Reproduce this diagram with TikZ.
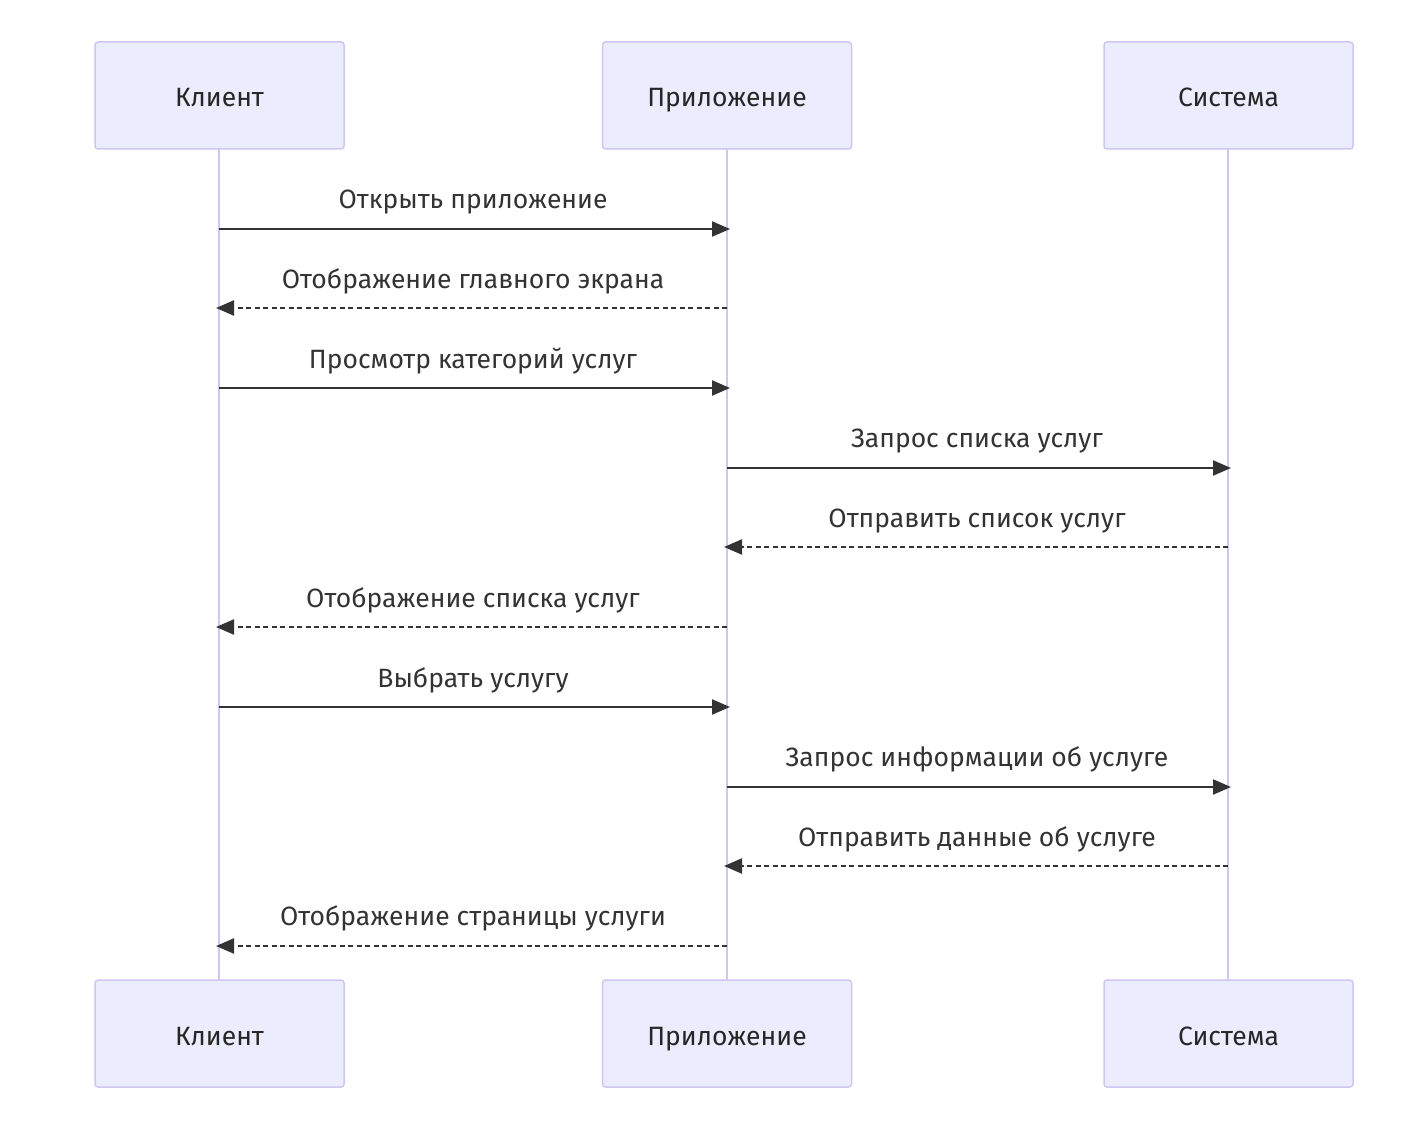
\documentclass[tikz,border=0pt]{standalone}
\usepackage{fontspec}
\setmainfont{Fira Sans}
\usetikzlibrary{arrows.meta}
\definecolor{actfill}{HTML}{ECECFF}
\definecolor{actline}{HTML}{D0C6F2}
\definecolor{msg}{HTML}{333333}
\begin{document}
\begin{tikzpicture}[x=1pt,y=-1pt,
  actor/.style={draw=actline,fill=actfill,line width=1.5pt,rounded corners=3pt,
    minimum width=249pt,minimum height=107pt,inner sep=0pt,
    text height=23pt,text depth=0pt,
    font=\fontsize{26.5}{31}\selectfont,text=black!85},
  life/.style={draw=actline,line width=2pt},
  msgsolid/.style={draw=msg,line width=2.2pt,-{Triangle[length=18pt,width=15pt]}},
  msgdash/.style={draw=msg,line width=2.2pt,dash pattern=on 5pt off 3.5pt,-{Triangle[length=18pt,width=15pt]}},
  lbl/.style={font=\fontsize{26.5}{31}\selectfont,text=black!80,inner sep=0pt,anchor=base}]
\useasboundingbox (0,0) rectangle (1408,1126);
\fill[white] (0,0) rectangle (1408,1126);
% lifelines
\coordinate (cT) at (219,149); \coordinate (cB) at (219,980);
\coordinate (pT) at (727,149); \coordinate (pB) at (727,980);
\coordinate (sT) at (1228,149); \coordinate (sB) at (1228,980);
\draw[life] (cT) -- (cB);
\draw[life] (pT) -- (pB);
\draw[life] (sT) -- (sB);
% actors
\node[actor] (c1n) at (219.5,95.5) {Клиент};
\node[actor] (p1n) at (727,95.5) {Приложение};
\node[actor] (s1n) at (1228.5,95.5) {Система};
\node[actor] (c2n) at (219.5,1033.5) {Клиент};
\node[actor] (p2n) at (727,1033.5) {Приложение};
\node[actor] (s2n) at (1228.5,1033.5) {Система};
% message anchor coordinates
\foreach \i/\y in {1/229,2/308,3/388,4/468,5/547,6/627,7/707,8/787,9/866,10/946}{
  \coordinate (cs\i) at (219,\y);
  \coordinate (cd\i) at (216,\y);
  \coordinate (pm\i) at (727,\y);
  \coordinate (ps\i) at (730,\y);
  \coordinate (pd\i) at (724,\y);
  \coordinate (sm\i) at (1228,\y);
  \coordinate (ss\i) at (1231,\y);
}
\draw[msgsolid] (cs1) -- (ps1);
\node[lbl] (l1) at (473,208) {Открыть приложение};
\draw[msgdash] (pm2) -- (cd2);
\node[lbl] (l2) at (473,288) {Отображение главного экрана};
\draw[msgsolid] (cs3) -- (ps3);
\node[lbl] (l3) at (473,368) {Просмотр категорий услуг};
\draw[msgsolid] (pm4) -- (ss4);
\node[lbl] (l4) at (977,447) {Запрос списка услуг};
\draw[msgdash] (sm5) -- (pd5);
\node[lbl] (l5) at (977,527) {Отправить список услуг};
\draw[msgdash] (pm6) -- (cd6);
\node[lbl] (l6) at (473,607) {Отображение списка услуг};
\draw[msgsolid] (cs7) -- (ps7);
\node[lbl] (l7) at (473,687) {Выбрать услугу};
\draw[msgsolid] (pm8) -- (ss8);
\node[lbl] (l8) at (977,766) {Запрос информации об услуге};
\draw[msgdash] (sm9) -- (pd9);
\node[lbl] (l9) at (977,846) {Отправить данные об услуге};
\draw[msgdash] (pm10) -- (cd10);
\node[lbl] (l10) at (473,925) {Отображение страницы услуги};
\end{tikzpicture}
\end{document}
